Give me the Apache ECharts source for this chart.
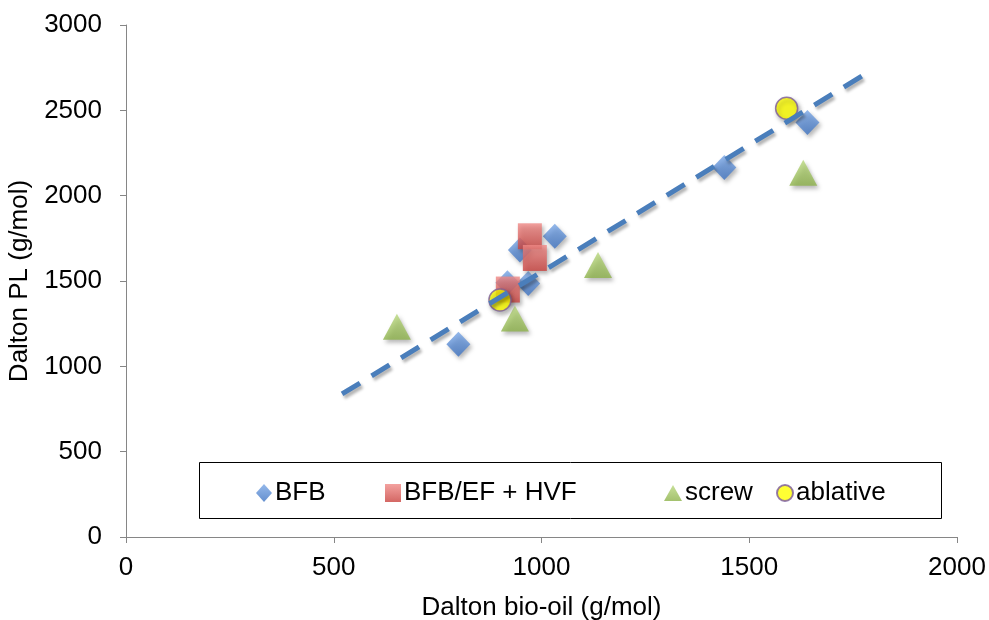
<!DOCTYPE html>
<html>
<head>
<meta charset="utf-8">
<script src="https://cdn.jsdelivr.net/npm/echarts@6/dist/echarts.min.js"></script>
<style>
  html, body { margin: 0; padding: 0; background: #fff; }
  #chart { width: 989px; height: 620px; }
</style>
</head>
<body>
<div id="chart"></div>
<script>
// Molecular weight of pyrolytic lignin vs. bio-oil, by reactor type
const bfbX = [800, 918, 948, 968, 1032, 1440, 1640];
const bfbY = [1130, 1490, 1682, 1485, 1762, 2165, 2428];
const hvfX = [972, 984, 919];
const hvfY = [1762, 1635, 1450];
const screwX = [652, 936, 1136, 1630];
const screwY = [1232, 1280, 1594, 2135];
const ablativeX = [900, 1590];
const ablativeY = [1389, 2512];
const trendX = [520, 1771];
const trendY = [838, 2701];
const xTicks = [0, 500, 1000, 1500, 2000];
const yTicks = [0, 500, 1000, 1500, 2000, 2500, 3000];

const FONT = "'Liberation Sans', Arial, sans-serif";
const FS = 26;
const pairs = (xs, ys) => xs.map((x, i) => [x, ys[i]]);
const grad = (top, bottom) => ({
  type: 'linear', x: 0, y: 0, x2: 0, y2: 1,
  colorStops: [{ offset: 0, color: top }, { offset: 1, color: bottom }]
});
const shadow = { shadowBlur: 4, shadowOffsetX: 2, shadowOffsetY: 3, shadowColor: 'rgba(0,0,0,0.35)' };

const chart = echarts.init(document.getElementById('chart'), null, { renderer: 'canvas' });

const legendCommon = {
  top: 475,
  itemGap: 0,
  textStyle: { fontFamily: FONT, fontSize: FS, color: '#000', padding: [0, 0, 0, -2] },
  selectedMode: false
};

chart.setOption({
  animation: false,
  backgroundColor: '#fff',
  grid: { left: 126, right: 32, top: 25, bottom: 83, containLabel: false, outerBoundsMode: 'none' },
  xAxis: {
    type: 'value', min: xTicks[0], max: xTicks[xTicks.length - 1], interval: 500,
    name: 'Dalton bio-oil (g/mol)', nameLocation: 'middle', nameGap: 58,
    nameTextStyle: { fontFamily: FONT, fontSize: FS, color: '#000' },
    axisLine: { onZero: false, lineStyle: { color: '#868686', width: 1 } },
    axisTick: { show: true, inside: false, length: 6, lineStyle: { color: '#868686' } },
    axisLabel: { fontFamily: FONT, fontSize: FS, color: '#000', margin: 18, formatter: v => String(v) },
    splitLine: { show: false }
  },
  yAxis: {
    type: 'value', min: yTicks[0], max: yTicks[yTicks.length - 1], interval: 500,
    name: 'Dalton PL (g/mol)', nameLocation: 'middle', nameGap: 81,
    nameTextStyle: { fontFamily: FONT, fontSize: FS, color: '#000' },
    axisLine: { show: true, lineStyle: { color: '#868686', width: 1 } },
    axisTick: { show: true, inside: false, length: 6, lineStyle: { color: '#868686' } },
    axisLabel: { fontFamily: FONT, fontSize: FS, color: '#000', margin: 24, formatter: v => String(v) },
    splitLine: { show: false }
  },
  legend: [
    Object.assign({}, legendCommon, { left: 251, data: ['BFB'], itemWidth: 16, itemHeight: 18 }),
    Object.assign({}, legendCommon, { left: 380, data: ['BFB/EF + HVF'], itemWidth: 16, itemHeight: 18 }),
    Object.assign({}, legendCommon, { left: 659, data: ['screw'], itemWidth: 18, itemHeight: 16 }),
    Object.assign({}, legendCommon, { left: 771, data: ['ablative'], itemWidth: 16, itemHeight: 16 })
  ],
  graphic: [{
    type: 'rect', left: 199, top: 462, z: 0,
    shape: { width: 742, height: 56 },
    style: { fill: '#fff', stroke: '#000', lineWidth: 1 }
  }],
  series: [
    {
      name: 'BFB', type: 'scatter', symbol: 'diamond', symbolSize: [24, 25],
      data: pairs(bfbX, bfbY), z: 2,
      itemStyle: Object.assign({ color: grad('#7aa7e6', '#3e73c2') }, shadow)
    },
    {
      name: 'BFB/EF + HVF', type: 'scatter', symbol: 'rect', symbolSize: [24, 26],
      data: pairs(hvfX, hvfY), z: 3,
      itemStyle: Object.assign({ color: grad('#f08a87', '#c9413d') }, shadow)
    },
    {
      name: 'screw', type: 'scatter', symbol: 'triangle', symbolSize: [28, 26],
      data: pairs(screwX, screwY), z: 4,
      itemStyle: Object.assign({ color: grad('#b9d87e', '#8db24a') }, shadow)
    },
    {
      name: 'ablative', type: 'scatter', symbol: 'circle', symbolSize: 22,
      data: pairs(ablativeX, ablativeY), z: 5,
      itemStyle: Object.assign({ color: '#ffff00', borderColor: '#7a5a9e', borderWidth: 1.5 }, shadow)
    },
    {
      name: 'trend', type: 'line', data: pairs(trendX, trendY), z: 6,
      symbol: 'none', silent: true, legendHoverLink: false,
      lineStyle: Object.assign({ color: '#4a7ebb', width: 5, type: [21, 13.6] },
        { shadowBlur: 3, shadowOffsetX: 2, shadowOffsetY: 3, shadowColor: 'rgba(0,0,0,0.3)' })
    }
  ]
});
</script>
</body>
</html>
